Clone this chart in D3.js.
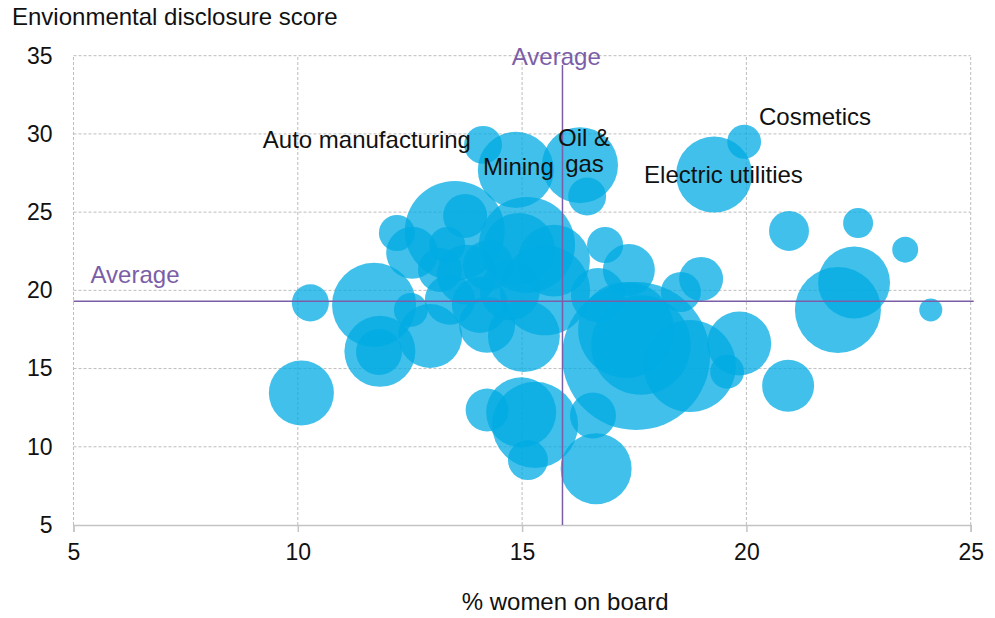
<!DOCTYPE html>
<html>
<head>
<meta charset="utf-8">
<script src="https://cdn.jsdelivr.net/npm/d3@7"></script>
<style>
body{margin:0;background:#fff;}
text{font-family:"Liberation Sans",Arial,sans-serif;}
</style>
</head>
<body>
<script>
const w=995;
const h=618;

// one bubble per industry: % women on board, disclosure score, bubble size
const pctWomen=[14.13,14.86,16.29,16.45,19.28,19.95,20.95,22.49,23.54,22.40,22.04,24.11,20.93,19.84,16.65,16.58,15.13,14.98,14.22,15.29,
  10.08,10.28,11.83,11.81,11.70,12.95,12.21,12.55,13.50,13.73,13.33,12.52,15.11,14.93,16.85,17.38,18.99,18.54,17.54,17.32,
  17.65,18.74,19.57,15.51,15.04,14.22,13.77,13.39,14.06,14.73,15.71,13.17,14.24,16.69];
const envScore=[29.3,27.7,28.0,26.0,27.4,29.5,23.8,24.3,22.6,20.5,18.75,18.75,13.9,16.6,8.6,12.0,9.15,12.2,12.35,11.4,
  13.44,19.2,16.1,16.06,19.07,17.08,23.67,22.4,23.8,24.76,22.9,18.75,22.9,22.65,22.9,21.3,20.73,19.9,15.8,17.47,
  16.5,15.17,14.8,20.0,17.08,17.8,21.0,19.4,19.07,20.0,21.9,21.3,21.6,19.7];
const bubbleSize=[6.4,25.7,25.7,6.4,25.7,5.1,7.1,4.0,3.0,23.0,32.9,2.35,12.0,18.2,22.4,9.4,7.1,21.8,8.2,32.9,
  18.8,6.1,22.4,9.4,31.4,18.2,5.8,12.0,44.4,8.6,5.8,5.1,41,23,5.8,12,8.6,7.1,97.3,41,
  44,37.6,5.1,36,23,14,16,11.1,14,16,23,8.6,11.1,13];

const xTicks=[5,10,15,20,25];
const yTicks=[5,10,15,20,25,30,35];

const avgWomen=15.9;
const avgScore=19.3;

// industry labels, anchored in data units (left edge, baseline)
const labelNames=["Auto manufacturing","Mining","Oil &","gas","Electric utilities","Cosmetics"];
const labelX=[9.22,14.13,15.8,15.96,17.72,20.28];
const labelY=[29.1,27.38,29.23,27.57,26.87,30.58];

let dataset=pctWomen.map((d,i)=>({x:d,y:envScore[i],s:bubbleSize[i]}));

let svg=d3.select("body").append("svg")
  .attr("width",w)
  .attr("height",h);

let x=d3.scaleLinear().domain([5,25]).range([73.5,970.7]);
let y=d3.scaleLinear().domain([5,35]).range([525,55.7]);
let r=d3.scaleSqrt().domain([0,100]).range([0,75]);

// dashed grid
svg.append("g")
  .selectAll("line")
  .data(yTicks.filter(t=>t>5))
  .enter().append("line")
  .attr("x1",x(5)).attr("x2",x(25))
  .attr("y1",d=>y(d)).attr("y2",d=>y(d))
  .attr("stroke","#bdbdbd").attr("stroke-width",1)
  .attr("stroke-dasharray","3,2");

svg.append("g")
  .selectAll("line")
  .data(xTicks)
  .enter().append("line")
  .attr("x1",d=>x(d)).attr("x2",d=>x(d))
  .attr("y1",y(5)).attr("y2",y(35))
  .attr("stroke","#bdbdbd").attr("stroke-width",1)
  .attr("stroke-dasharray","3,2");

// bottom axis
let xAxis=d3.axisBottom(x).tickValues(xTicks).tickSize(7).tickPadding(12);
let gx=svg.append("g")
  .attr("transform","translate(0,"+y(5)+")")
  .call(xAxis);
gx.select(".domain").attr("stroke","#c4c4c4").attr("stroke-width",1.5);
gx.selectAll(".tick line").attr("stroke","#c4c4c4").attr("stroke-width",1.5);
gx.selectAll("text")
  .attr("fill","#111")
  .style("font-size","23px")
  .style("font-family","'Liberation Sans',Arial,sans-serif");

// left axis labels only
let yAxis=d3.axisLeft(y).tickValues(yTicks).tickSize(0).tickPadding(21);
let gy=svg.append("g")
  .attr("transform","translate("+x(5)+",0)")
  .call(yAxis);
gy.select(".domain").remove();
gy.selectAll("text")
  .attr("fill","#111")
  .style("font-size","23px")
  .style("font-family","'Liberation Sans',Arial,sans-serif");

// bubbles
svg.append("g")
  .selectAll("circle")
  .data(dataset)
  .enter().append("circle")
  .attr("cx",d=>x(d.x))
  .attr("cy",d=>y(d.y))
  .attr("r",d=>r(d.s))
  .style("fill","#00abe3")
  .attr("fill-opacity",.75);

// average lines
const purple="#7b5ea7";
svg.append("line")
  .attr("x1",x(avgWomen)).attr("x2",x(avgWomen))
  .attr("y1",y(5)).attr("y2",y(34.4))
  .attr("stroke",purple).attr("stroke-width",1.5);
svg.append("line")
  .attr("x1",x(5)).attr("x2",x(25)+3)
  .attr("y1",y(avgScore)).attr("y2",y(avgScore))
  .attr("stroke",purple).attr("stroke-width",1.5);

svg.append("text")
  .attr("x",x(5.38)).attr("y",y(20.47))
  .attr("fill",purple)
  .style("font-size","24px")
  .text("Average");
svg.append("text")
  .attr("x",x(14.77)).attr("y",y(34.41))
  .attr("fill",purple)
  .style("font-size","24px")
  .text("Average");

// industry labels
svg.append("g")
  .selectAll("text")
  .data(labelNames)
  .enter().append("text")
  .attr("x",(d,i)=>x(labelX[i]))
  .attr("y",(d,i)=>y(labelY[i]))
  .attr("fill","#111")
  .style("font-size","24px")
  .text(d=>d);

// axis titles
svg.append("text")
  .attr("x",12).attr("y",25)
  .attr("fill","#111")
  .style("font-size","24px")
  .text("Envionmental disclosure score");

svg.append("text")
  .attr("x",(x(5)+x(25))/2+43).attr("y",610)
  .attr("text-anchor","middle")
  .attr("fill","#111")
  .style("font-size","24px")
  .text("% women on board");
</script>
</body>
</html>
